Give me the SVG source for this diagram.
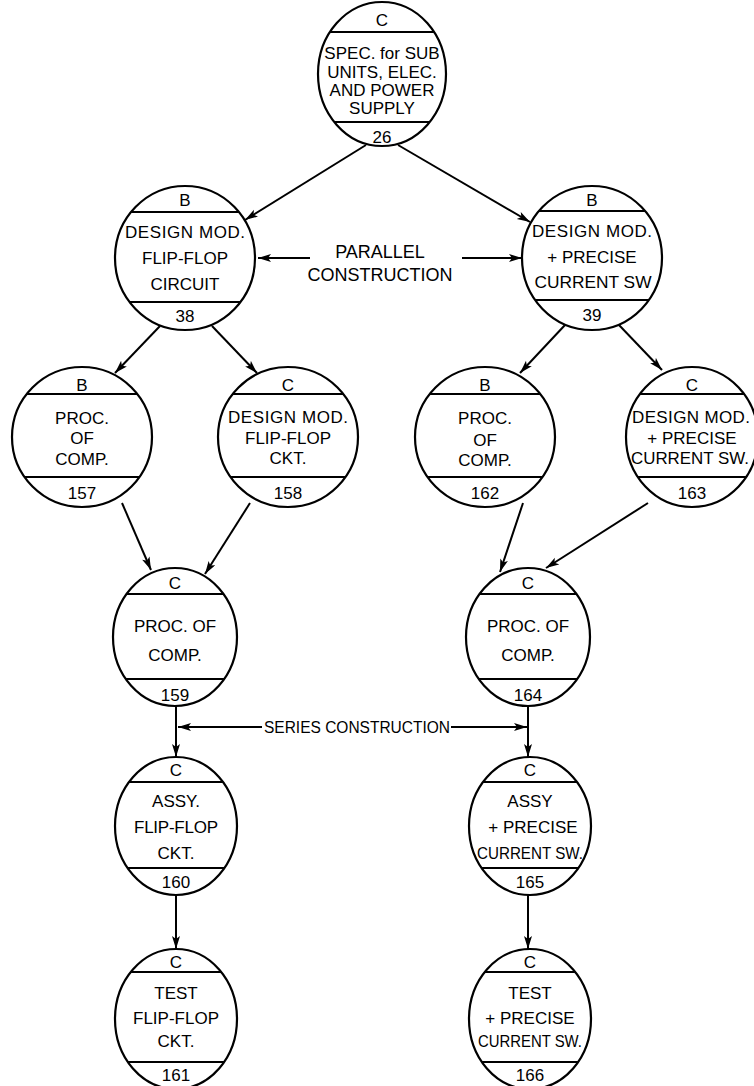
<svg xmlns="http://www.w3.org/2000/svg" width="754" height="1086" viewBox="0 0 754 1086">
<style>
.n{fill:#fff;stroke:#000;stroke-width:2.2}
.d{stroke:#000;stroke-width:2.2}
.c{stroke:#000;stroke-width:2;fill:none;marker-end:url(#ah)}
text{font-family:"Liberation Sans",Arial,sans-serif;font-size:17px;fill:#000;text-anchor:middle}
.lab{font-size:18px}
.ser{font-size:16px}
</style>
<defs>
<marker id="ah" markerUnits="userSpaceOnUse" markerWidth="14" markerHeight="10" refX="13" refY="4" orient="auto">
<path d="M0,0 L13,4 L0,8 L3,4 Z" fill="#000"/>
</marker>
</defs>
<rect width="754" height="1086" fill="#fff"/>
<g id="connectors">
<line class="c" x1="366" y1="145" x2="245" y2="220"/>
<line class="c" x1="398" y1="145" x2="530" y2="222"/>
<line class="c" x1="310" y1="258" x2="258" y2="258"/>
<line class="c" x1="462" y1="258" x2="522" y2="258"/>
<line class="c" x1="160" y1="326" x2="115" y2="373"/>
<line class="c" x1="212" y1="326" x2="257" y2="373"/>
<line class="c" x1="565" y1="325" x2="520" y2="373"/>
<line class="c" x1="619" y1="325" x2="662" y2="370"/>
<line class="c" x1="122" y1="503" x2="151" y2="570"/>
<line class="c" x1="250" y1="503" x2="205" y2="574"/>
<line class="c" x1="523" y1="503" x2="500" y2="572"/>
<line class="c" x1="648" y1="503" x2="546" y2="568"/>
<line class="c" x1="176" y1="706" x2="176" y2="757"/>
<line class="c" x1="528" y1="706" x2="528" y2="757"/>
<line class="c" x1="262" y1="727" x2="178" y2="727"/>
<line class="c" x1="451" y1="727" x2="527" y2="727"/>
<line class="c" x1="176" y1="895" x2="176" y2="949"/>
<line class="c" x1="528" y1="895" x2="528" y2="949"/>
<text class="lab" x="380" y="258">PARALLEL</text>
<text class="lab" x="380" y="281">CONSTRUCTION</text>
<text class="ser" x="357" y="733" textLength="186" lengthAdjust="spacingAndGlyphs">SERIES CONSTRUCTION</text>
</g>
<g id="n26">
<ellipse class="n" cx="382" cy="74" rx="64" ry="72"/>
<line class="d" x1="330" y1="32" x2="434" y2="32"/>
<line class="d" x1="334" y1="122" x2="430" y2="122"/>
<text x="382" y="26">C</text>
<text x="382" y="59">SPEC. for SUB</text>
<text x="382" y="78">UNITS, ELEC.</text>
<text x="382" y="96">AND POWER</text>
<text x="382" y="114">SUPPLY</text>
<text x="382" y="143">26</text>
</g>
<g id="n38">
<ellipse class="n" cx="185" cy="258" rx="70" ry="72"/>
<line class="d" x1="131" y1="212" x2="239" y2="212"/>
<line class="d" x1="130" y1="302" x2="240" y2="302"/>
<text x="185" y="206">B</text>
<text x="185" y="238" textLength="120">DESIGN MOD.</text>
<text x="185" y="264">FLIP-FLOP</text>
<text x="185" y="290">CIRCUIT</text>
<text x="185" y="322">38</text>
</g>
<g id="n39">
<ellipse class="n" cx="592" cy="258" rx="70" ry="72"/>
<line class="d" x1="539" y1="211" x2="645" y2="211"/>
<line class="d" x1="535" y1="300" x2="649" y2="300"/>
<text x="592" y="206">B</text>
<text x="592" y="237" textLength="120">DESIGN MOD.</text>
<text x="592" y="263">+ PRECISE</text>
<text x="593" y="288" textLength="117" lengthAdjust="spacingAndGlyphs">CURRENT SW</text>
<text x="592" y="321">39</text>
</g>
<g id="n157">
<ellipse class="n" cx="82" cy="437" rx="70" ry="70"/>
<line class="d" x1="27" y1="394" x2="137" y2="394"/>
<line class="d" x1="25" y1="477" x2="139" y2="477"/>
<text x="82" y="391">B</text>
<text x="82" y="424">PROC.</text>
<text x="82" y="444">OF</text>
<text x="82" y="465">COMP.</text>
<text x="82" y="499">157</text>
</g>
<g id="n158">
<ellipse class="n" cx="288" cy="437" rx="70" ry="70"/>
<line class="d" x1="233" y1="394" x2="343" y2="394"/>
<line class="d" x1="231" y1="477" x2="345" y2="477"/>
<text x="288" y="391">C</text>
<text x="288" y="423" textLength="120">DESIGN MOD.</text>
<text x="288" y="444">FLIP-FLOP</text>
<text x="288" y="464">CKT.</text>
<text x="288" y="499">158</text>
</g>
<g id="n162">
<ellipse class="n" cx="485" cy="437" rx="70" ry="70"/>
<line class="d" x1="430" y1="394" x2="540" y2="394"/>
<line class="d" x1="428" y1="477" x2="542" y2="477"/>
<text x="485" y="391">B</text>
<text x="485" y="424">PROC.</text>
<text x="485" y="446">OF</text>
<text x="485" y="466">COMP.</text>
<text x="485" y="499">162</text>
</g>
<g id="n163">
<ellipse class="n" cx="692" cy="437" rx="66" ry="70"/>
<line class="d" x1="640" y1="394" x2="744" y2="394"/>
<line class="d" x1="638" y1="477" x2="746" y2="477"/>
<text x="692" y="391">C</text>
<text x="691" y="423" textLength="118">DESIGN MOD.</text>
<text x="692" y="444">+ PRECISE</text>
<text x="690" y="464" textLength="118" lengthAdjust="spacingAndGlyphs">CURRENT SW.</text>
<text x="692" y="499">163</text>
</g>
<g id="n159">
<ellipse class="n" cx="175" cy="637" rx="62" ry="69"/>
<line class="d" x1="127" y1="594" x2="223" y2="594"/>
<line class="d" x1="126" y1="679" x2="224" y2="679"/>
<text x="175" y="589">C</text>
<text x="175" y="632">PROC. OF</text>
<text x="175" y="661">COMP.</text>
<text x="175" y="701">159</text>
</g>
<g id="n164">
<ellipse class="n" cx="528" cy="637" rx="62" ry="69"/>
<line class="d" x1="480" y1="594" x2="576" y2="594"/>
<line class="d" x1="479" y1="679" x2="577" y2="679"/>
<text x="528" y="589">C</text>
<text x="528" y="632">PROC. OF</text>
<text x="528" y="661">COMP.</text>
<text x="528" y="701">164</text>
</g>
<g id="n160">
<ellipse class="n" cx="176" cy="826" rx="61" ry="69"/>
<line class="d" x1="129" y1="782" x2="223" y2="782"/>
<line class="d" x1="128" y1="868" x2="224" y2="868"/>
<text x="176" y="776">C</text>
<text x="176" y="807">ASSY.</text>
<text x="176" y="833" textLength="84">FLIP-FLOP</text>
<text x="176" y="859">CKT.</text>
<text x="176" y="888">160</text>
</g>
<g id="n165">
<ellipse class="n" cx="530" cy="826" rx="61" ry="69"/>
<line class="d" x1="483" y1="782" x2="577" y2="782"/>
<line class="d" x1="482" y1="868" x2="578" y2="868"/>
<text x="530" y="776">C</text>
<text x="530" y="807">ASSY</text>
<text x="533" y="833">+ PRECISE</text>
<text x="530" y="859" textLength="106" lengthAdjust="spacingAndGlyphs">CURRENT SW.</text>
<text x="530" y="888">165</text>
</g>
<g id="n161">
<ellipse class="n" cx="176" cy="1019" rx="61" ry="70"/>
<line class="d" x1="131" y1="972" x2="221" y2="972"/>
<line class="d" x1="128" y1="1062" x2="224" y2="1062"/>
<text x="176" y="968">C</text>
<text x="176" y="999">TEST</text>
<text x="176" y="1024" textLength="86">FLIP-FLOP</text>
<text x="176" y="1047">CKT.</text>
<text x="176" y="1081">161</text>
</g>
<g id="n166">
<ellipse class="n" cx="530" cy="1019" rx="61" ry="70"/>
<line class="d" x1="485" y1="972" x2="575" y2="972"/>
<line class="d" x1="482" y1="1062" x2="578" y2="1062"/>
<text x="530" y="968">C</text>
<text x="530" y="999">TEST</text>
<text x="530" y="1024">+ PRECISE</text>
<text x="530" y="1047" textLength="104" lengthAdjust="spacingAndGlyphs">CURRENT SW.</text>
<text x="530" y="1081">166</text>
</g>
</svg>
